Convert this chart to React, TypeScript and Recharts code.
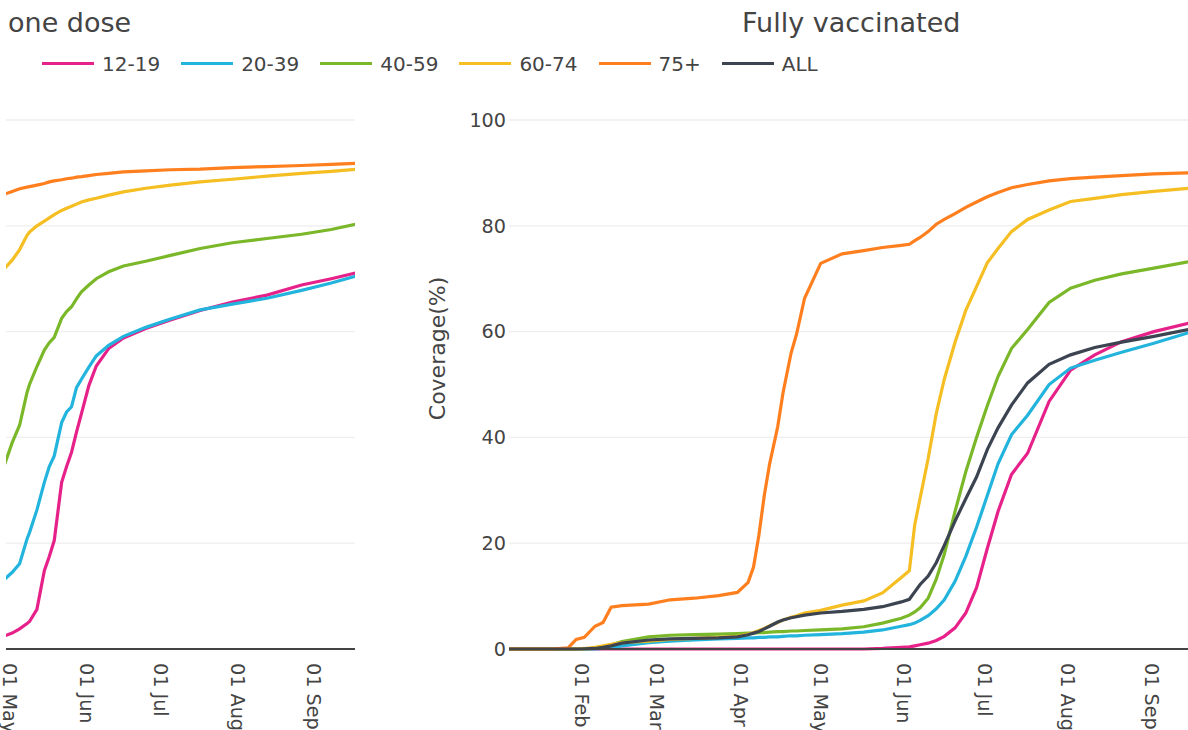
import React from "react";
import { CartesianGrid, Line, LineChart, XAxis, YAxis } from "recharts";

const FONT = "'DejaVu Sans', Verdana, sans-serif";
const TEXT = "#444";

const MONTHS = ["Jan", "Feb", "Mar", "Apr", "May", "Jun", "Jul", "Aug", "Sep", "Oct", "Nov", "Dec"];

// series order + colours
const groups = ["12-19", "20-39", "40-59", "60-74", "75+", "ALL"];
const groupColors = ["#e6228a", "#22b4dd", "#7ab82a", "#f5be22", "#ff7f1e", "#3b4450"];

// ---- fully vaccinated (right panel) ----
const fullDates = [
  "01-05", "01-21", "01-27", "01-30", "02-02", "02-06", "02-09", "02-12", "02-16", "02-26",
  "03-06", "03-15", "03-24", "03-31", "04-04", "04-06", "04-08", "04-10", "04-12", "04-15",
  "04-17", "04-20", "04-22", "04-25", "05-01", "05-09", "05-17", "05-24", "05-31", "06-03",
  "06-05", "06-07", "06-10", "06-13", "06-16", "06-20", "06-24", "06-28", "07-02", "07-06",
  "07-11", "07-17", "07-25", "08-02", "08-11", "08-21", "09-02", "09-15",
];
const full12_19 = [
  0, 0, 0, 0, 0, 0, 0, 0, 0, 0,
  0, 0, 0, 0, 0, 0, 0, 0, 0, 0,
  0, 0, 0, 0, 0, 0, 0, 0.1, 0.3, 0.4,
  0.6, 0.8, 1.1, 1.6, 2.4, 4.0, 6.8, 11.6, 19.0, 26.0,
  33.0, 37.0, 46.8, 52.7, 55.6, 58.1, 60.0, 61.6,
];
const full20_39 = [
  0, 0, 0, 0, 0, 0, 0.1, 0.3, 0.6, 1.2,
  1.5, 1.7, 1.9, 2.0, 2.1, 2.1, 2.2, 2.2, 2.3, 2.3,
  2.4, 2.5, 2.5, 2.6, 2.7, 2.9, 3.2, 3.6, 4.3, 4.6,
  4.9, 5.4, 6.3, 7.6, 9.3, 12.8, 17.5, 23.0, 29.0, 35.0,
  40.5, 44.2, 50.0, 53.1, 54.6, 56.1, 57.8, 59.8,
];
const full40_59 = [
  0, 0, 0, 0, 0, 0.1, 0.4, 0.8, 1.4, 2.3,
  2.6, 2.7, 2.8, 2.9, 3.0, 3.0, 3.1, 3.1, 3.2, 3.3,
  3.3, 3.4, 3.4, 3.5, 3.6, 3.8, 4.2, 4.9, 5.8, 6.4,
  7.0, 7.8, 9.6, 13.2, 17.9, 26.0, 33.5, 40.0, 46.0, 51.5,
  56.8, 60.4, 65.5, 68.2, 69.7, 70.9, 72.0, 73.2,
];
const full60_74 = [
  0, 0, 0, 0, 0.1, 0.3, 0.6, 0.9, 1.2, 1.5,
  1.8, 2.0, 2.2, 2.4, 2.8, 3.1, 3.5, 3.9, 4.4, 5.0,
  5.5, 6.0, 6.3, 6.8, 7.3, 8.3, 9.1, 10.6, 13.5, 14.8,
  23.5, 28.5, 36.0, 44.5, 51.0, 58.0, 64.0, 68.5, 73.0, 75.7,
  78.9, 81.2, 83.0, 84.6, 85.2, 85.9, 86.5, 87.1,
];
const full75plus = [
  0, 0, 0.2, 1.8, 2.2, 4.3, 5.0, 7.9, 8.2, 8.5,
  9.3, 9.6, 10.1, 10.7, 12.6, 15.5, 21.5, 29.0, 35.0, 42.0,
  48.5, 56.0, 59.5, 66.3, 72.9, 74.7, 75.3, 75.9, 76.3, 76.5,
  77.2, 77.8, 78.9, 80.3, 81.2, 82.3, 83.5, 84.5, 85.5, 86.3,
  87.2, 87.8, 88.5, 88.9, 89.2, 89.5, 89.8, 90.0,
];
const fullAll = [
  0, 0, 0, 0, 0.05, 0.1, 0.3, 0.6, 1.1, 1.7,
  1.9, 2.0, 2.1, 2.3, 2.7, 3.0, 3.3, 3.8, 4.3, 5.1,
  5.5, 5.9, 6.1, 6.4, 6.8, 7.1, 7.5, 8.0, 8.9, 9.4,
  10.8, 12.2, 13.8, 16.3, 19.6, 24.2, 28.4, 32.5, 37.7, 41.8,
  46.1, 50.3, 53.8, 55.6, 57.0, 58.0, 59.1, 60.4,
];

// ---- at least one dose (left panel, only May-Sep visible) ----
const oneDates = [
  "04-29", "05-02", "05-05", "05-08", "05-09", "05-12", "05-15", "05-17", "05-19", "05-22",
  "05-24", "05-26", "05-28", "05-30", "06-02", "06-05", "06-10", "06-16", "06-25", "07-05",
  "07-17", "07-30", "08-13", "08-27", "09-08", "09-18",
];
const one12_19 = [
  2.5, 3.0, 3.8, 4.8, 5.2, 7.5, 14.8, 17.5, 20.5, 31.5,
  34.5, 37.2, 41.0, 44.5, 49.8, 53.5, 56.8, 58.8, 60.6, 62.2,
  64.0, 65.6, 66.9, 68.8, 70.0, 71.1,
];
const one20_39 = [
  13.2, 14.5, 16.1, 20.8, 22.0, 26.3, 31.5, 34.5, 36.5, 42.8,
  44.8, 45.8, 49.4, 51.0, 53.3, 55.4, 57.4, 59.1, 60.8, 62.4,
  64.1, 65.2, 66.3, 67.8, 69.2, 70.5,
];
const one40_59 = [
  35.0, 39.0, 42.3, 48.5, 50.0, 53.4, 56.5, 57.9, 58.9, 62.5,
  63.8, 64.7, 66.2, 67.5, 68.8, 70.0, 71.3, 72.4, 73.3, 74.4,
  75.7, 76.8, 77.6, 78.4, 79.3, 80.3,
];
const one60_74 = [
  72.0, 73.5, 75.5, 78.2, 78.8, 80.0, 80.9, 81.5, 82.1, 82.9,
  83.3, 83.7, 84.1, 84.5, 84.9, 85.2, 85.8, 86.4, 87.1, 87.7,
  88.3, 88.8, 89.4, 89.9, 90.3, 90.7,
];
const one75plus = [
  86.0, 86.5, 87.0, 87.3, 87.4, 87.7, 88.0, 88.3, 88.5, 88.7,
  88.9, 89.0, 89.2, 89.3, 89.5, 89.7, 89.9, 90.2, 90.4, 90.6,
  90.7, 91.0, 91.2, 91.4, 91.6, 91.8,
];

const yTicks = [0, 20, 40, 60, 80, 100];
const fullTickDates = ["02-01", "03-01", "04-01", "05-01", "06-01", "07-01", "08-01", "09-01"];
const oneTickDates = ["05-01", "06-01", "07-01", "08-01", "09-01"];

const DAY = 86400000;
const YEAR0 = Date.UTC(2021, 0, 1);

function dayOf(md: string) {
  const [m, d] = md.split("-").map(Number);
  return (Date.UTC(2021, m - 1, d) - YEAR0) / DAY;
}

function fmtDay(day: number) {
  const dt = new Date(YEAR0 + day * DAY);
  return String(dt.getUTCDate()).padStart(2, "0") + " " + MONTHS[dt.getUTCMonth()];
}

function buildRows(dates: string[], cols: number[][]) {
  return dates.map((md, i) => {
    const row: Record<string, number> = { day: dayOf(md) };
    cols.forEach((vals, k) => {
      row[groups[k]] = vals[i];
    });
    return row;
  });
}

const fullRows = buildRows(fullDates, [full12_19, full20_39, full40_59, full60_74, full75plus, fullAll]);
const oneRows = buildRows(oneDates, [one12_19, one20_39, one40_59, one60_74, one75plus]);

function DateTick({ x, y, payload }: any) {
  return (
    <text
      x={x}
      y={y}
      dx={2}
      transform={`rotate(90 ${x} ${y})`}
      textAnchor="start"
      dominantBaseline="central"
      fill={TEXT}
      fontSize={19.2}
      fontFamily={FONT}
    >
      {fmtDay(payload.value)}
    </text>
  );
}

// plotly centres the title on a taller axis than the 0-100 part drawn here
function CoverageTitle({ viewBox }: any) {
  if (!viewBox) return null;
  const cx = viewBox.x + 57;
  const cy = viewBox.y + viewBox.height / 2 - 36;
  return (
    <text
      x={cx}
      y={cy}
      transform={`rotate(-90 ${cx} ${cy})`}
      textAnchor="middle"
      dominantBaseline="central"
      fill={TEXT}
      fontSize={22}
      fontFamily={FONT}
    >
      Coverage(%)
    </text>
  );
}

const chartMargin = { top: 120, bottom: 6 };

export default function App() {
  return (
    <div style={{ position: "absolute", left: 0, top: 0, width: 1188, height: 730, overflow: "hidden", background: "#fff" }}>
      {/* left: at least one dose (cropped view) */}
      <div style={{ position: "absolute", left: 0, top: 0 }}>
        <LineChart width={360} height={730} data={oneRows} margin={{ ...chartMargin, left: 6, right: 5 }}>
          <CartesianGrid vertical={false} stroke="#eee" strokeWidth={1.3} />
          <XAxis
            type="number"
            dataKey="day"
            domain={[118.5, 259.6]}
            allowDataOverflow
            ticks={oneTickDates.map(dayOf)}
            interval={0}
            height={75}
            tickLine={false}
            tickSize={0}
            tickMargin={12}
            axisLine={{ stroke: TEXT, strokeWidth: 2 }}
            tick={<DateTick />}
          />
          <YAxis hide domain={[0, 100]} ticks={yTicks} allowDataOverflow />
          {groups.slice(0, 5).map((g, i) => (
            <Line
              key={g}
              type="linear"
              dataKey={g}
              stroke={groupColors[i]}
              strokeWidth={3.2}
              dot={false}
              isAnimationActive={false}
            />
          ))}
        </LineChart>
      </div>

      {/* right: fully vaccinated */}
      <div style={{ position: "absolute", left: 380, top: 0 }}>
        <LineChart width={808} height={730} data={fullRows} margin={{ ...chartMargin, left: 0, right: 0 }}>
          <CartesianGrid vertical={false} stroke="#eee" strokeWidth={1.3} />
          <XAxis
            type="number"
            dataKey="day"
            domain={[4, 256.7]}
            allowDataOverflow
            ticks={fullTickDates.map(dayOf)}
            interval={0}
            height={75}
            tickLine={false}
            tickSize={0}
            tickMargin={12}
            axisLine={{ stroke: TEXT, strokeWidth: 2 }}
            tick={<DateTick />}
          />
          <YAxis
            domain={[0, 100]}
            ticks={yTicks}
            width={129}
            tickLine={false}
            axisLine={false}
            tickSize={0}
            tickMargin={3}
            tick={{ fontSize: 19.2, fill: TEXT, fontFamily: FONT }}
            label={<CoverageTitle />}
          />
          {groups.map((g, i) => (
            <Line
              key={g}
              type="linear"
              dataKey={g}
              stroke={groupColors[i]}
              strokeWidth={3.2}
              dot={false}
              isAnimationActive={false}
            />
          ))}
        </LineChart>
      </div>

      {/* subplot titles */}
      <svg width={1188} height={45} style={{ position: "absolute", left: 0, top: 0, pointerEvents: "none" }}>
        <text x={8} y={32} fontSize={27} fill={TEXT} fontFamily={FONT}>
          one dose
        </text>
        <text x={742} y={32} fontSize={27} fill={TEXT} fontFamily={FONT}>
          Fully vaccinated
        </text>
      </svg>

      {/* legend */}
      <div
        style={{
          position: "absolute",
          left: 42,
          top: 51.5,
          height: 24,
          display: "flex",
          alignItems: "center",
          fontFamily: FONT,
          fontSize: 20,
          lineHeight: "24px",
          color: TEXT,
          whiteSpace: "nowrap",
        }}
      >
        {groups.map((g, i) => (
          <div key={g} style={{ display: "flex", alignItems: "center", marginRight: 21 }}>
            <span style={{ display: "inline-block", width: 52, height: 3.2, background: groupColors[i], marginRight: 8 }} />
            <span>{g}</span>
          </div>
        ))}
      </div>
    </div>
  );
}
